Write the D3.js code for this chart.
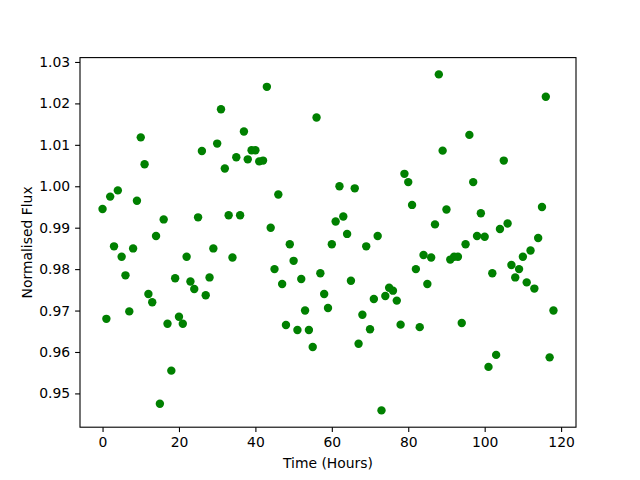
<!DOCTYPE html>
<html>
<head>
<meta charset="utf-8">
<script src="https://cdn.jsdelivr.net/npm/d3@7"></script>
<style>
  body { margin: 0; background: #fff; }
  svg text { font-family: "DejaVu Sans", sans-serif; }
</style>
</head>
<body>
<div id="chart"></div>
<script>
// flux readings, one per hour starting at t = 0
const flux = [
  0.9945, 0.968, 0.9975, 0.9855, 0.999, 0.983, 0.9785, 0.9698, 0.985, 0.9965,
  1.0118, 1.0053, 0.974, 0.972, 0.988, 0.9475, 0.992, 0.9668, 0.9555, 0.9778,
  0.9685, 0.9668, 0.983, 0.977, 0.9752, 0.9925, 1.0085, 0.9737, 0.978, 0.985,
  1.0103, 1.0186, 1.0043, 0.993, 0.9828, 1.007, 0.993, 1.0132, 1.0065, 1.0087,
  1.0087, 1.006, 1.0062, 1.024, 0.990, 0.980, 0.998, 0.9764, 0.9665, 0.986,
  0.982, 0.9653, 0.9776, 0.970, 0.9653, 0.9612, 1.0166, 0.979, 0.974, 0.9706,
  0.986, 0.9915, 1.000, 0.9927, 0.9885, 0.9772, 0.9995, 0.962, 0.969, 0.9855,
  0.9655, 0.9728, 0.988, 0.9459, 0.9735, 0.9755, 0.9748, 0.9724, 0.9666, 1.003,
  1.001, 0.9955, 0.980, 0.966, 0.9834, 0.9764, 0.9828, 0.9908, 1.027, 1.0086,
  0.9944, 0.9823, 0.983, 0.983, 0.967, 0.986, 1.0124, 1.001, 0.988, 0.9935,
  0.9878, 0.9564, 0.979, 0.9593, 0.9897, 1.0062, 0.991, 0.981, 0.978, 0.980,
  0.983, 0.9768, 0.9845, 0.9753, 0.9875, 0.995, 1.0216, 0.9587, 0.970
];
const hours = flux.map((_, i) => i);
const xTicks = [0, 20, 40, 60, 80, 100, 120];
const yTicks = [0.95, 0.96, 0.97, 0.98, 0.99, 1.00, 1.01, 1.02, 1.03];

const W = 640, H = 480;
const margin = { top: 57.6, right: 64, bottom: 52.8, left: 80 };
const width = W - margin.left - margin.right;
const height = H - margin.top - margin.bottom;
const fs = 13.9;

const points = hours.map((h, i) => ({ t: h, f: flux[i] }));

// matplotlib-style 5% padding around the data
const pad = (ext) => {
  const d = (ext[1] - ext[0]) * 0.05;
  return [ext[0] - d, ext[1] + d];
};

const x = d3.scaleLinear()
  .domain(pad(d3.extent(points, d => d.t)))
  .range([0, width]);
const y = d3.scaleLinear()
  .domain(pad(d3.extent(points, d => d.f)))
  .range([height, 0]);

const svg = d3.select('#chart')
  .append('svg')
  .attr('width', W)
  .attr('height', H)
  .append('g')
  .attr('transform', `translate(${margin.left},${margin.top})`);

// points first, so the frame sits on top
svg.selectAll('.pt')
  .data(points)
  .enter()
  .append('circle')
  .attr('class', 'pt')
  .attr('cx', d => x(d.t))
  .attr('cy', d => y(d.f))
  .attr('r', 4.2)
  .attr('fill', '#008000');

const xAxis = svg.append('g')
  .attr('transform', `translate(0,${height})`)
  .call(d3.axisBottom(x).tickValues(xTicks).tickFormat(d3.format('d'))
    .tickSizeInner(4.9).tickSizeOuter(0).tickPadding(4.9));

const yAxis = svg.append('g')
  .call(d3.axisLeft(y).tickValues(yTicks).tickFormat(d3.format('.2f'))
    .tickSizeInner(4.9).tickSizeOuter(0).tickPadding(4.9));

[xAxis, yAxis].forEach(g => {
  g.select('.domain').remove();
  g.selectAll('line').attr('stroke', '#000').attr('stroke-width', 1.1);
  g.selectAll('text').attr('font-size', fs).attr('fill', '#000')
    .attr('font-family', '"DejaVu Sans", sans-serif');
});

// frame
svg.append('rect')
  .attr('width', width)
  .attr('height', height)
  .attr('fill', 'none')
  .attr('stroke', '#000')
  .attr('stroke-width', 1.1);

svg.append('text')
  .attr('x', width / 2)
  .attr('y', height + 41)
  .attr('text-anchor', 'middle')
  .attr('font-size', fs)
  .text('Time (Hours)');

svg.append('text')
  .attr('transform', `translate(${-48},${height / 2}) rotate(-90)`)
  .attr('text-anchor', 'middle')
  .attr('font-size', fs)
  .text('Normalised Flux');
</script>
</body>
</html>
